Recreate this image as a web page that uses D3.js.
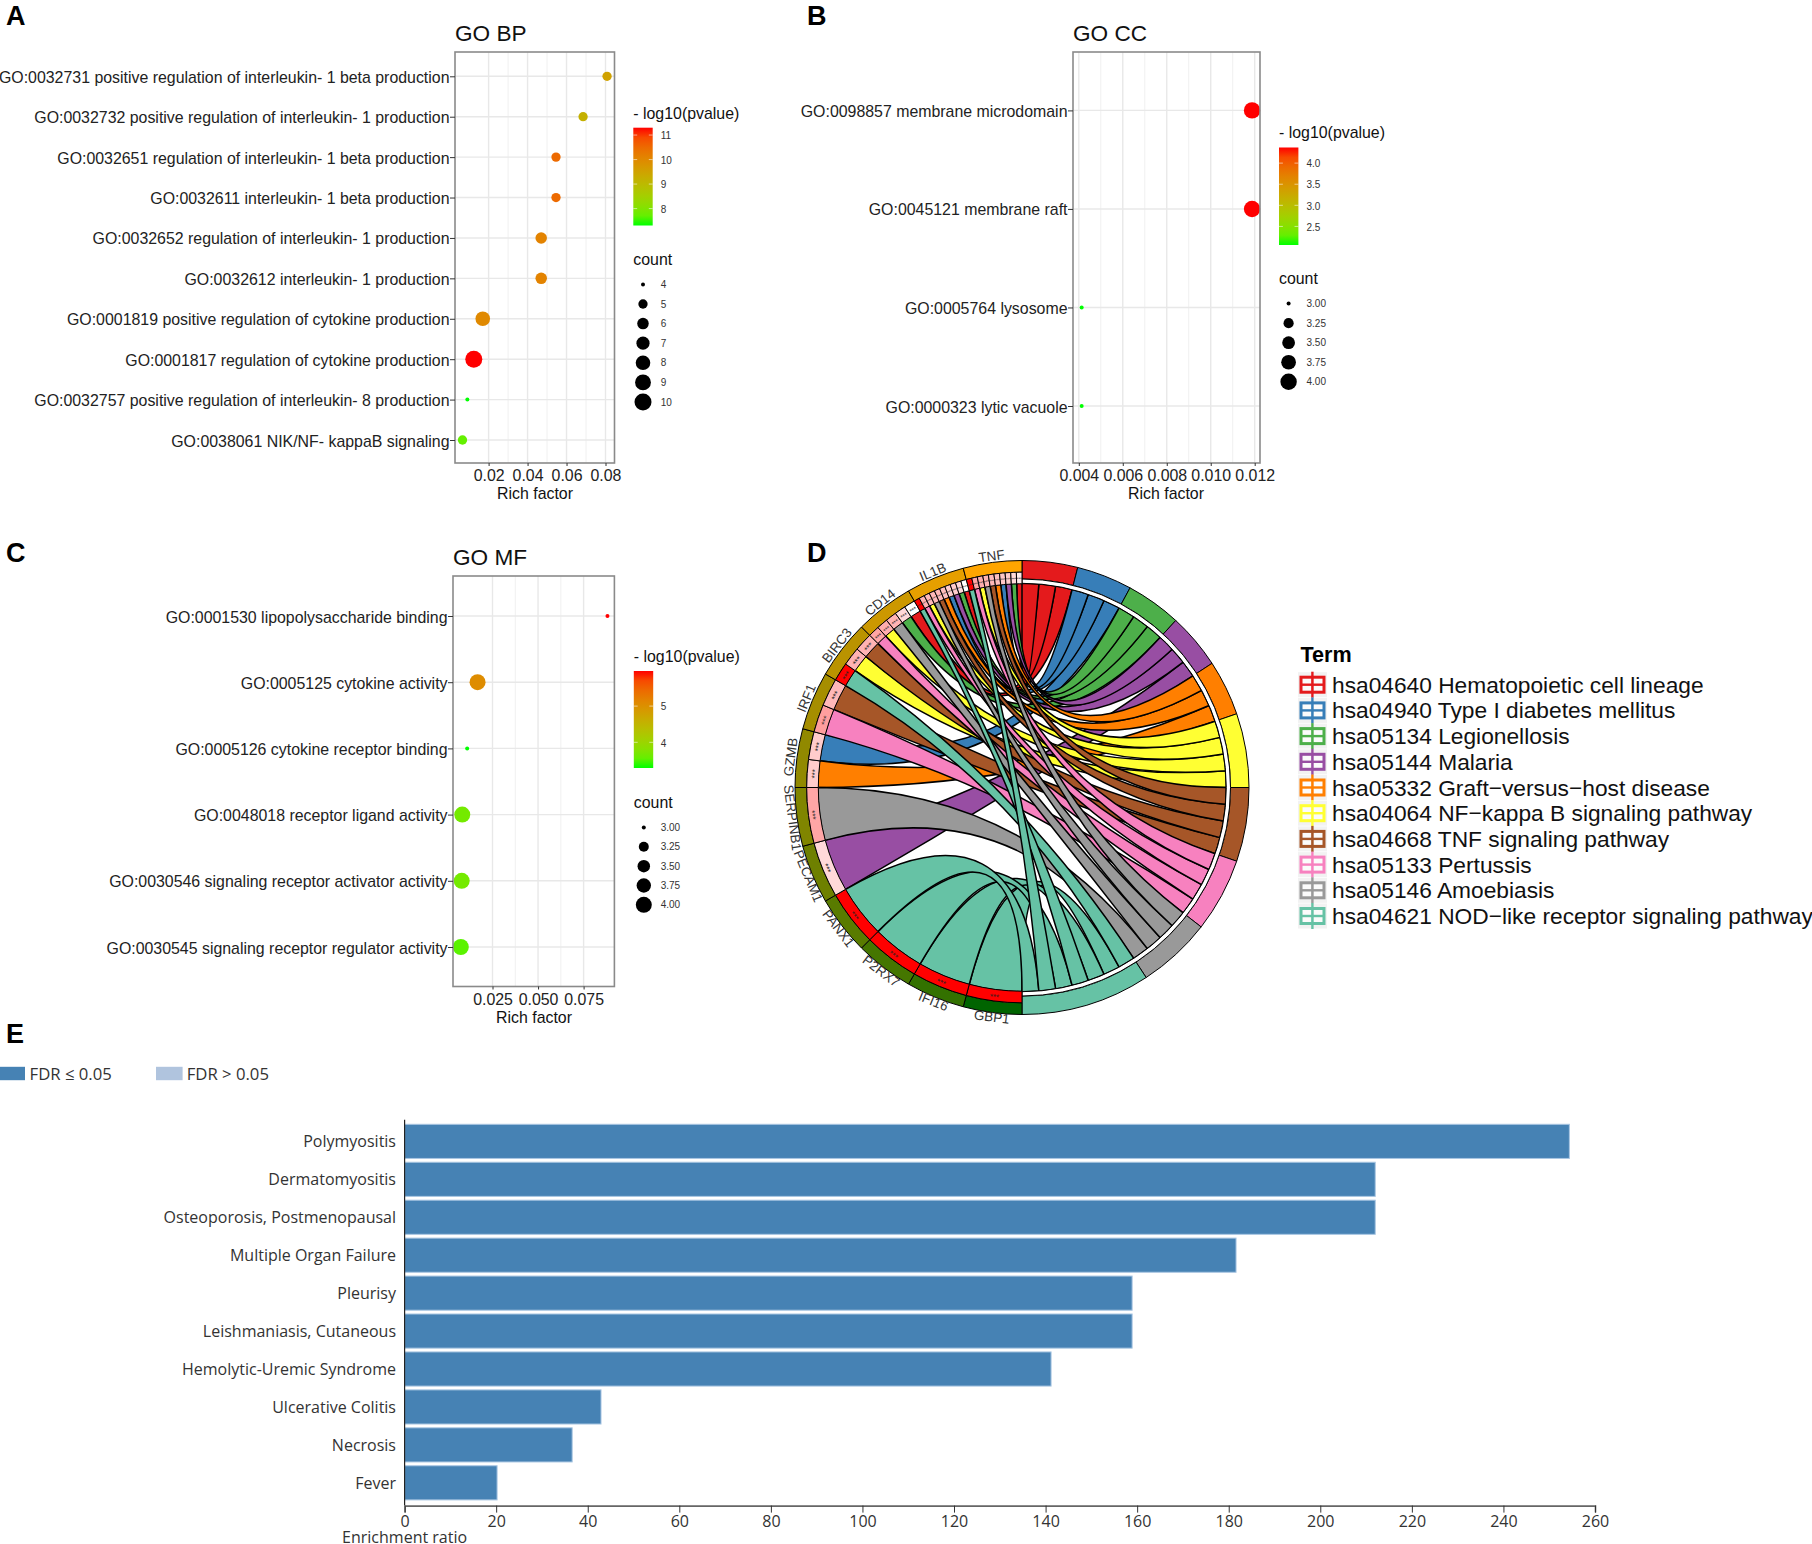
<!DOCTYPE html>
<html><head><meta charset="utf-8">
<script src="https://cdn.jsdelivr.net/npm/d3@7/dist/d3.min.js"></script>
<style>
html,body{margin:0;padding:0;background:#fff;overflow:hidden}
text{font-family:"Liberation Sans",Arial,sans-serif}
.os text,text.os{font-family:"Open Sans",sans-serif}
</style></head><body><svg id="c" width="1812" height="1544" xmlns="http://www.w3.org/2000/svg"></svg>
<script>
// ---------- Data ----------
const bpTerms=["GO:0032731 positive regulation of interleukin- 1 beta production","GO:0032732 positive regulation of interleukin- 1 production","GO:0032651 regulation of interleukin- 1 beta production","GO:0032611 interleukin- 1 beta production","GO:0032652 regulation of interleukin- 1 production","GO:0032612 interleukin- 1 production","GO:0001819 positive regulation of cytokine production","GO:0001817 regulation of cytokine production","GO:0032757 positive regulation of interleukin- 8 production","GO:0038061 NIK/NF- kappaB signaling"];
const bpRich=[0.0808,0.0685,0.0546,0.0546,0.0470,0.0470,0.0170,0.0124,0.0091,0.0066];
const bpLogP=[9.5,9.2,10.5,10.5,10.1,10.1,10.0,11.3,7.31,7.7];
const bpCount=[5,5,5,5,6,6,8,10,4,5];
const bpColorTicks=[8,9,10,11];
const bpSizeTicks=[4,5,6,7,8,9,10];
const ccTerms=["GO:0098857 membrane microdomain","GO:0045121 membrane raft","GO:0005764 lysosome","GO:0000323 lytic vacuole"];
const ccRich=[0.01188,0.01188,0.00413,0.00413];
const ccLogP=[4.37,4.37,2.06,2.06];
const ccCount=[4,4,3,3];
const ccColorTicks=[2.5,3,3.5,4];
const ccSizeTicks=[3,3.25,3.5,3.75,4];
const mfTerms=["GO:0001530 lipopolysaccharide binding","GO:0005125 cytokine activity","GO:0005126 cytokine receptor binding","GO:0048018 receptor ligand activity","GO:0030546 signaling receptor activator activity","GO:0030545 signaling receptor regulator activity"];
const mfRich=[0.0881,0.0168,0.0111,0.0084,0.0081,0.0076];
const mfLogP=[5.97,5.05,3.29,3.65,3.65,3.5];
const mfCount=[3,4,3,4,4,4];
const mfColorTicks=[4,5];
const mfSizeTicks=[3,3.25,3.5,3.75,4];

const termNames=["hsa04640 Hematopoietic cell lineage","hsa04940 Type I diabetes mellitus","hsa05134 Legionellosis","hsa05144 Malaria","hsa05332 Graft\u2212versus\u2212host disease","hsa04064 NF\u2212kappa B signaling pathway","hsa04668 TNF signaling pathway","hsa05133 Pertussis","hsa05146 Amoebiasis","hsa04621 NOD\u2212like receptor signaling pathway"];
const genes=["GBP1","IFI16","P2RX7","PANX1","PECAM1","SERPINB1","GZMB","IRF1","BIRC3","CD14","IL1B","TNF"];
const geneValue=[0,0.2,0.27,0.35,0.43,0.5,0.57,0.65,0.73,0.8,0.9,1];
// term index of each cell of each gene, in order around the ring
const geneCells=[[9],[9],[9],[9],[3],[8],[4,1],[7,6],[9,5,6],[7,5,8,2,0],[9,7,5,8,6,4,1,3,2,0],[9,7,5,8,6,4,1,3,2,0]];
const geneCellValue=[[1],[1],[1],[1],[0.15],[0.35],[0.2,0.2],[0.38,0.28],[1,0.3,0.3],[0.35,0.32,0.3,0.15,0],[1,0.3,0.28,0.28,0.28,0.25,0.2,0.2,0.15,0],[1,0.35,0.32,0.3,0.28,0.25,0.22,0.2,0.15,0.08]];
// gene index of each slot of each term sector, clockwise
const termSlots=[[11,10,9],[11,10,6],[11,10,9],[11,10,4],[11,10,6],[11,10,9,8],[11,10,8,7],[11,10,9,7],[11,10,9,5],[8,0,1,10,2,11,3]];

const enrichNames=["Polymyositis","Dermatomyositis","Osteoporosis, Postmenopausal","Multiple Organ Failure","Pleurisy","Leishmaniasis, Cutaneous","Hemolytic-Uremic Syndrome","Ulcerative Colitis","Necrosis","Fever"];
const enrichRatio=[254.4,212,212,181.6,158.9,158.9,141.2,42.9,36.6,20.2];
const enrichTicks=[0,20,40,60,80,100,120,140,160,180,200,220,240,260];

// ---------- Dot plots ----------
const svg=d3.select("#c");
const defs=svg.append("defs");
const FS=15.9;
function dotPlot(o){
  const g=svg.append("g");
  const {box}=o;
  const x=d3.scaleLinear().domain(o.xDom).range(o.xRange);
  const y=d3.scalePoint().domain(o.terms).range(o.yRange);
  const cs=d3.scaleLinear().domain(o.colorDom).range(["#00ff00","#ff0000"]).interpolate(d3.interpolateLab);
  const t=d3.scaleLinear().domain(d3.extent(o.sizeTicks)).range([0,1]);
  const rs=d3.scaleSqrt().domain([0,1]).range(o.rRange);
  const size=v=>rs(t(v));
  // grid
  g.selectAll(".minor").data(o.minor).join("line").attr("x1",x).attr("x2",x).attr("y1",box[1]).attr("y2",box[3]).attr("stroke","#f0f0f0").attr("stroke-width",1);
  g.selectAll(".majorx").data(o.xTicks).join("line").attr("x1",x).attr("x2",x).attr("y1",box[1]).attr("y2",box[3]).attr("stroke","#e8e8e8").attr("stroke-width",1.4);
  g.selectAll(".majory").data(o.terms).join("line").attr("x1",box[0]).attr("x2",box[2]).attr("y1",d=>y(d)).attr("y2",d=>y(d)).attr("stroke","#e8e8e8").attr("stroke-width",1.4);
  // dots
  g.selectAll(".dot").data(o.terms).join("circle").attr("cx",(d,i)=>x(o.rich[i])).attr("cy",d=>y(d)).attr("r",(d,i)=>size(o.count[i])).attr("fill",(d,i)=>cs(o.logP[i]));
  g.append("rect").attr("x",box[0]).attr("y",box[1]).attr("width",box[2]-box[0]).attr("height",box[3]-box[1]).attr("fill","none").attr("stroke","#8a8a8a").attr("stroke-width",1.6);
  // axes
  const ax=g.append("g").attr("transform",`translate(0,${box[3]})`).call(d3.axisBottom(x).tickValues(o.xTicks).tickFormat(d3.format(o.xFmt)).tickSize(3).tickPadding(3));
  ax.select(".domain").remove();
  ax.selectAll("line").attr("stroke","#333").attr("stroke-width",1);
  ax.selectAll("text").attr("font-size",FS).attr("fill","#222").attr("font-family","Liberation Sans").attr("dy",null).attr("y",o.xLabelY-box[3]);
  const ay=g.append("g").attr("transform",`translate(${box[0]},0)`).call(d3.axisLeft(y).tickSize(5).tickPadding(0.5));
  ay.select(".domain").remove();
  ay.selectAll("line").attr("stroke","#333").attr("stroke-width",1);
  ay.selectAll("text").attr("font-size",FS).attr("fill","#222").attr("font-family","Liberation Sans").attr("dy","0.38em");
  g.append("text").attr("x",box[0]).attr("y",o.titleY).attr("font-size",22.6).attr("fill","#111").text(o.title);
  g.append("text").attr("x",o.xTitleX).attr("y",o.xTitleY).attr("text-anchor","middle").attr("font-size",FS).attr("fill","#111").text("Rich factor");
  // colour legend
  const L=o.legend;
  g.append("text").attr("x",L.x).attr("y",L.titleY).attr("font-size",FS).attr("fill","#111").text("- log10(pvalue)");
  const id="grad"+o.title.replace(/\s/g,"");
  const grad=defs.append("linearGradient").attr("id",id).attr("x1",0).attr("x2",0).attr("y1",1).attr("y2",0);
  d3.range(0,1.001,0.1).forEach(f=>grad.append("stop").attr("offset",f).attr("stop-color",cs(o.colorDom[0]+f*(o.colorDom[1]-o.colorDom[0]))));
  g.append("rect").attr("x",L.x).attr("y",L.barY[0]).attr("width",L.w).attr("height",L.barY[1]-L.barY[0]).attr("fill",`url(#${id})`);
  const by=d3.scaleLinear().domain(o.colorDom).range([L.barY[1],L.barY[0]]);
  o.colorTicks.forEach(v=>{
    [[L.x,L.x+L.w/5],[L.x+L.w*4/5,L.x+L.w]].forEach(p=>g.append("line").attr("x1",p[0]).attr("x2",p[1]).attr("y1",by(v)).attr("y2",by(v)).attr("stroke","#fff").attr("stroke-opacity",0.7).attr("stroke-width",0.8));
    g.append("text").attr("x",L.labelX).attr("y",by(v)+4.2).attr("font-size",10).attr("fill","#333").text(o.colorFmt(v));
  });
  g.append("text").attr("x",L.x).attr("y",L.countY).attr("font-size",FS).attr("fill","#111").text("count");
  const ly=d3.scalePoint().domain(o.sizeTicks).range(L.dotY);
  o.sizeTicks.forEach(v=>{
    g.append("circle").attr("cx",L.dotX).attr("cy",ly(v)).attr("r",size(v)).attr("fill","#000");
    g.append("text").attr("x",L.labelX).attr("y",ly(v)+3.6).attr("font-size",10).attr("fill","#333").text(o.sizeFmt(v));
  });
}
dotPlot({title:"GO BP",terms:bpTerms,rich:bpRich,logP:bpLogP,count:bpCount,box:[455,52,614.5,463],
  xDom:[0.02,0.08],xRange:[488.6,605.5],xTicks:[0.02,0.04,0.06,0.08],minor:[0.03,0.05,0.07],xFmt:".2f",yRange:[76.3,440],
  titleY:41,xLabelY:481,xTitleX:535,xTitleY:498.5,colorDom:[7.31,11.3],colorTicks:bpColorTicks,colorFmt:d3.format("d"),sizeTicks:bpSizeTicks,sizeFmt:d3.format("d"),rRange:[2,8.5],
  legend:{x:633.3,w:19.4,titleY:118.7,barY:[127.7,225.5],labelX:660.7,countY:265,dotX:643,dotY:[284.4,402]}});
dotPlot({title:"GO CC",terms:ccTerms,rich:ccRich,logP:ccLogP,count:ccCount,box:[1073,52,1260,463],
  xDom:[0.004,0.012],xRange:[1078.8,1254.7],xTicks:[0.004,0.006,0.008,0.01,0.012],minor:[0.005,0.007,0.009,0.011],xFmt:".3f",yRange:[110.4,406],
  titleY:41,xLabelY:481,xTitleX:1166,xTitleY:498.5,colorDom:[2.06,4.37],colorTicks:ccColorTicks,colorFmt:d3.format(".1f"),sizeTicks:ccSizeTicks,sizeFmt:d3.format(".2f"),rRange:[2,8.2],
  legend:{x:1279,w:19.4,titleY:138,barY:[147.5,245],labelX:1306.5,countY:284,dotX:1288.6,dotY:[303.6,381.8]}});
dotPlot({title:"GO MF",terms:mfTerms,rich:mfRich,logP:mfLogP,count:mfCount,box:[453,576,614.4,986.5],
  xDom:[0.025,0.075],xRange:[492.5,583.6],xTicks:[0.025,0.05,0.075],minor:[0.0375,0.0625],xFmt:".3f",yRange:[616,947],
  titleY:565,xLabelY:1004.5,xTitleX:534,xTitleY:1022.5,colorDom:[3.29,5.97],colorTicks:mfColorTicks,colorFmt:d3.format("d"),sizeTicks:mfSizeTicks,sizeFmt:d3.format(".2f"),rRange:[2,8],
  legend:{x:633.8,w:19.4,titleY:662,barY:[671,768],labelX:660.7,countY:807.5,dotX:643.8,dotY:[827.5,904.8]}});

// ---------- Panel letters ----------
[["A",6,25],["B",807,25],["C",6,562],["D",807,562],["E",6,1043]].forEach(d=>
  svg.append("text").attr("x",d[1]).attr("y",d[2]).attr("font-size",27).attr("font-weight","bold").attr("fill","#000").text(d[0]));

// ---------- Chord ----------
const termColors=["#e41a1c","#377eb8","#4daf4a","#984ea3","#ff7f00","#ffff33","#a65628","#f781bf","#999999","#66c2a5"];
const chordG=svg.append("g").attr("transform","translate(1022,787.5)");
const Rout=227,Rmid=215.3,Rin=203.7,RtermIn=208.5,Rrib=204.2;
const gx=d3.scaleBand().domain(genes).range([Math.PI,2*Math.PI]);
const nCh=d3.sum(termSlots,d=>d.length);
const tx=d3.scaleLinear().domain([0,nCh]).range([0,Math.PI]);
const geneCol=d3.scaleLinear().domain([0,1]).range(["#006400","#ffa500"]);
const cellCol=d3.scaleLinear().domain([0,1]).range(["#ffffff","#ff0000"]);
const arc=d3.arc();
const pt=(a,r)=>[r*Math.sin(a),-r*Math.cos(a)];
function geneSpan(gi,ti){
  const cells=geneCells[gi];const k=cells.indexOf(ti);
  const a=gx(genes[gi]),w=gx.bandwidth()/cells.length;
  return [a+k*w,a+(k+1)*w];
}
let cum=0;const ribbons=[];
termSlots.forEach((slots,ti)=>{
  const start=cum;
  slots.forEach((gi,s)=>{ribbons.push({ti,gi,t0:tx(start+s),t1:tx(start+s+1)});});
  cum+=slots.length;
});
const ribbonOrder=d3.range(termSlots.length).flatMap(ti=>ribbons.filter(r=>r.ti===ti).sort((a,b)=>a.gi-b.gi));
chordG.selectAll(".rib").data(ribbonOrder).join("path").attr("d",r=>{
  const [a0,a1]=geneSpan(r.gi,r.ti);
  const p=d3.path();const s=pt(a0,Rrib);const e=pt(r.t0,Rrib);
  p.moveTo(s[0],s[1]);
  p.arc(0,0,Rrib,a0-Math.PI/2,a1-Math.PI/2);
  p.quadraticCurveTo(0,0,e[0],e[1]);
  p.arc(0,0,Rrib,r.t0-Math.PI/2,r.t1-Math.PI/2);
  p.quadraticCurveTo(0,0,s[0],s[1]);
  p.closePath();return p.toString();
}).attr("fill",r=>termColors[r.ti]).attr("stroke","#000").attr("stroke-width",1.5);
// term sectors
cum=0;
termSlots.forEach((slots,ti)=>{
  chordG.append("path").attr("d",arc({innerRadius:RtermIn,outerRadius:Rout,startAngle:tx(cum),endAngle:tx(cum+slots.length)})).attr("fill",termColors[ti]).attr("stroke","#000").attr("stroke-width",1);
  cum+=slots.length;
});
chordG.append("path").attr("d",arc({innerRadius:Rrib,outerRadius:RtermIn,startAngle:0,endAngle:Math.PI})).attr("fill","#fff").attr("stroke","#000").attr("stroke-width",1);
// gene ring
genes.forEach((g,gi)=>{
  const a=gx(g),b=a+gx.bandwidth();
  chordG.append("path").attr("d",arc({innerRadius:Rmid,outerRadius:Rout,startAngle:a,endAngle:b})).attr("fill",geneCol(geneValue[gi])).attr("stroke","#000").attr("stroke-width",1);
  geneCells[gi].forEach((ti,k)=>{
    const w=gx.bandwidth()/geneCells[gi].length;
    chordG.append("path").attr("d",arc({innerRadius:Rin,outerRadius:Rmid,startAngle:a+k*w,endAngle:a+(k+1)*w})).attr("fill",cellCol(geneCellValue[gi][k])).attr("stroke","#000").attr("stroke-width",1);
    const m=a+(k+0.5)*w,deg=m*180/Math.PI;
    const up=deg>270;const rot=up?deg-360:deg-180;
    const p=pt(m,(Rin+Rmid)/2);
    chordG.append("text").attr("transform",`translate(${p[0]},${p[1]}) rotate(${rot})`).attr("text-anchor","middle").attr("dy","0.55em").attr("font-size",geneCells[gi].length>=10?4.5:(geneCells[gi].length>=5?6:8)).attr("fill","#222").text("***");
  });
  const m=a+gx.bandwidth()/2,deg=m*180/Math.PI,up=deg>270,rot=up?deg-360:deg-180;
  const p=pt(m,up?228.8:236);
  chordG.append("text").attr("transform",`translate(${p[0]},${p[1]}) rotate(${rot})`).attr("text-anchor","middle").attr("font-size",13.4).attr("fill","#333").attr("dominant-baseline","alphabetic").text(g);
});
// term legend
const lg=svg.append("g");
lg.append("text").attr("x",1300.4).attr("y",661.7).attr("font-size",21.6).attr("font-weight","bold").attr("fill","#000").text("Term");
const ly=d3.scalePoint().domain(termNames).range([692.7,924]);
termNames.forEach((n,i)=>{
  const y=ly(n),cy=y-8,col=termColors[i];
  const k=lg.append("g");
  k.append("rect").attr("x",1298).attr("y",cy-12.5).attr("width",29).attr("height",25).attr("fill","#f2f2f2");
  k.append("line").attr("x1",1312.4).attr("x2",1312.4).attr("y1",cy-13).attr("y2",cy+13).attr("stroke",col).attr("stroke-width",2.4);
  k.append("rect").attr("x",1301).attr("y",cy-7.5).attr("width",23).attr("height",15).attr("fill","#fff").attr("fill-opacity",0.65).attr("stroke",col).attr("stroke-width",3);
  k.append("line").attr("x1",1300).attr("x2",1325).attr("y1",cy).attr("y2",cy).attr("stroke",col).attr("stroke-width",2.4);
  k.append("line").attr("x1",1312.4).attr("x2",1312.4).attr("y1",cy-8).attr("y2",cy+8).attr("stroke",col).attr("stroke-width",2.4);
  lg.append("text").attr("x",1332).attr("y",y).attr("font-size",22.74).attr("fill","#111").text(n);
});

// ---------- Panel E ----------
const eg=svg.append("g").attr("class","os");
const ex=d3.scaleLinear().domain([0,260]).range([404.6,1595]);
const ey=d3.scaleBand().domain(enrichNames).range([1122.4,1501.8]).paddingInner(0.1).paddingOuter(0.05);
eg.selectAll(".bar").data(enrichNames).join("rect").attr("x",ex(0)).attr("y",d=>ey(d)).attr("width",(d,i)=>ex(enrichRatio[i])-ex(0)).attr("height",ey.bandwidth()).attr("fill","#4682b4").attr("stroke","#a9c6e2").attr("stroke-width",1);
eg.selectAll(".lab").data(enrichNames).join("text").attr("x",396).attr("y",d=>ey(d)+ey.bandwidth()/2).attr("dy","0.36em").attr("text-anchor","end").attr("font-size",16).attr("fill","#333").text(d=>d);
eg.append("line").attr("x1",404.6).attr("x2",404.6).attr("y1",1119.7).attr("y2",1505.6).attr("stroke","#222").attr("stroke-width",1.2);
const eax=eg.append("g").attr("transform","translate(0,1505.6)").call(d3.axisBottom(ex).tickValues(enrichTicks).tickSize(7).tickPadding(3).tickFormat(d3.format("d")));
eax.select(".domain").attr("stroke","#666").attr("stroke-width",1.6);
eax.selectAll("line").attr("stroke","#333");
eax.selectAll("text").attr("font-size",16).attr("fill","#333").attr("font-family","Open Sans");
eg.append("text").attr("x",404.6).attr("y",1543).attr("text-anchor","middle").attr("font-size",16).attr("fill","#333").text("Enrichment ratio");
const fdr=[["FDR \u2264 0.05","#4682b4",-3,29.6],["FDR > 0.05","#b0c4de",156,186.7]];
fdr.forEach(d=>{
  eg.append("rect").attr("x",d[2]).attr("y",1066.8).attr("width",d[2]<0?28:26.6).attr("height",13.4).attr("fill",d[1]);
  eg.append("text").attr("x",d[3]).attr("y",1079.5).attr("font-size",16.7).attr("fill","#333").text(d[0]);
});
</script></body></html>
